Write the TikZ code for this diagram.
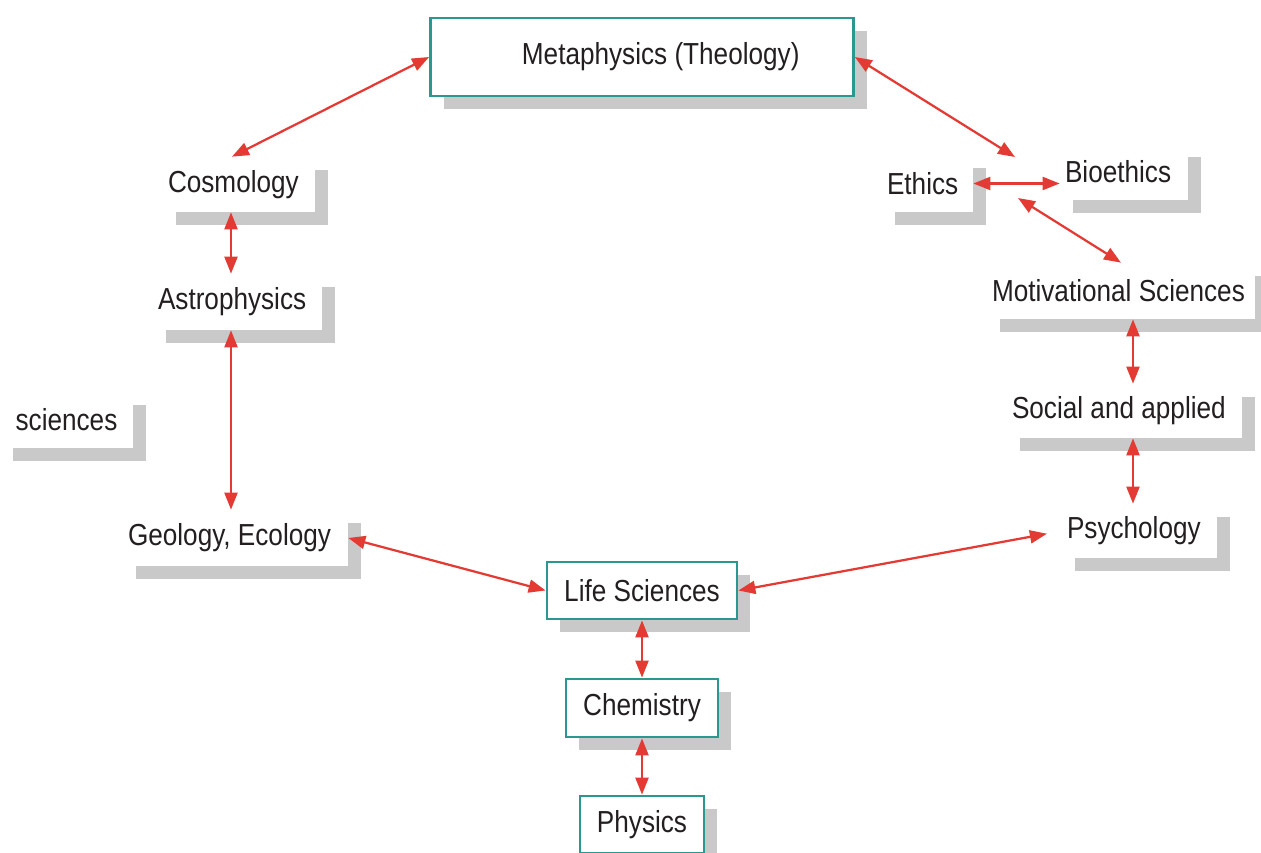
\documentclass[tikz,border=0pt]{standalone}
\usepackage{fontspec}
\setmainfont[FakeStretch=0.86]{Liberation Sans}
\usepackage{xcolor}
\usepackage{tikz}
\usetikzlibrary{arrows.meta,shadows,calc}
\definecolor{boxteal}{RGB}{42,152,142}
\definecolor{linkred}{RGB}{228,58,52}
\definecolor{inkgray}{RGB}{35,31,32}
\tikzset{
	soft shadow/.style={drop shadow={shadow xshift=.26cm, shadow yshift=-.26cm, fill=black!21, opacity=1}},
	labelfont/.style={text=inkgray, font=\fontsize{17.3}{20}\selectfont, execute at begin node=\spaceskip.24em\relax},
	plainbox/.style={fill=white, soft shadow, inner ysep=0pt, inner xsep=.1cm, text width=#1, align=left, labelfont}
}
\tikzstyle{tealbox}=[fill=white, soft shadow, inner sep=0pt, draw=boxteal, line width=.55mm, labelfont]
\tikzstyle{twoway}=[draw=linkred, line width=.45mm, {Triangle[length=3.4mm,width=2.6mm]}-{Triangle[length=3.4mm,width=2.6mm]}]

\begin{document}
\begin{tikzpicture}
	\useasboundingbox (0,0) rectangle (25.22,-17.06);
	\node[tealbox, minimum width=8.46cm, minimum height=1.56cm, inner xsep=1.08cm, text width=6.30cm, align=right] (meta) at (12.84,-1.14) {Metaphysics (Theology)};
	\node[plainbox=2.84cm, minimum height=1.10cm] (cosmo) at (4.78,-3.69) {Cosmology};
	\node[plainbox=3.18cm, minimum height=1.12cm] (astro) at (4.75,-6.04) {Astrophysics};
	\node[plainbox=2.46cm, minimum height=1.12cm, align=center] (sci) at (1.33,-8.40) {sciences};
	\node[plainbox=4.30cm, minimum height=1.12cm] (geo) at (4.71,-10.76) {Geology, Ecology};
	\node[plainbox=1.62cm, minimum height=1.14cm] (ethics) at (18.55,-3.67) {Ethics};
	\node[plainbox=2.36cm, minimum height=1.12cm] (bio) at (22.48,-3.44) {Bioethics};
	\node[plainbox=5.16cm, minimum height=1.12cm] (motiv) at (22.42,-5.82) {Motivational Sciences};
	\node[plainbox=4.50cm, minimum height=1.08cm] (social) at (22.49,-8.22) {Social and applied};
	\node[plainbox=2.90cm, minimum height=1.08cm] (psych) at (22.79,-10.62) {Psychology};
	\node[tealbox, minimum width=3.80cm, minimum height=1.14cm] (life) at (12.84,-11.81) {Life Sciences};
	\node[tealbox, minimum width=3.04cm, minimum height=1.16cm] (chem) at (12.84,-14.16) {Chemistry};
	\node[tealbox, minimum width=2.48cm, minimum height=1.14cm] (phys) at (12.84,-16.49) {Physics};

	\coordinate (ethtop) at (20.30,-3.14);
	\coordinate (ethlow) at (20.36,-3.96);
	\coordinate (leftx) at (4.62,0);
	\coordinate (rightx) at (22.66,0);

	\draw[twoway] (meta.west) -- ([xshift=-.14cm]cosmo.north);
	\draw[twoway] (meta.east) -- (ethtop);
	\draw[twoway] (ethics.east) -- (ethics.east -| bio.west);
	\draw[twoway] (ethlow) -- (motiv.north);
	\draw[twoway] (rightx |- motiv.south) -- (rightx |- social.north);
	\draw[twoway] (rightx |- social.south) -- (rightx |- psych.north);
	\draw[twoway, shorten >=.3cm] (life.east) -- (psych.west);
	\draw[twoway] (geo.east) -- (life.west);
	\draw[twoway] (leftx |- cosmo.south) -- (leftx |- astro.north);
	\draw[twoway] (leftx |- astro.south) -- (leftx |- geo.north);
	\draw[twoway] (life.south) -- (chem.north);
	\draw[twoway] (chem.south) -- (phys.north);
\end{tikzpicture}
\end{document}
